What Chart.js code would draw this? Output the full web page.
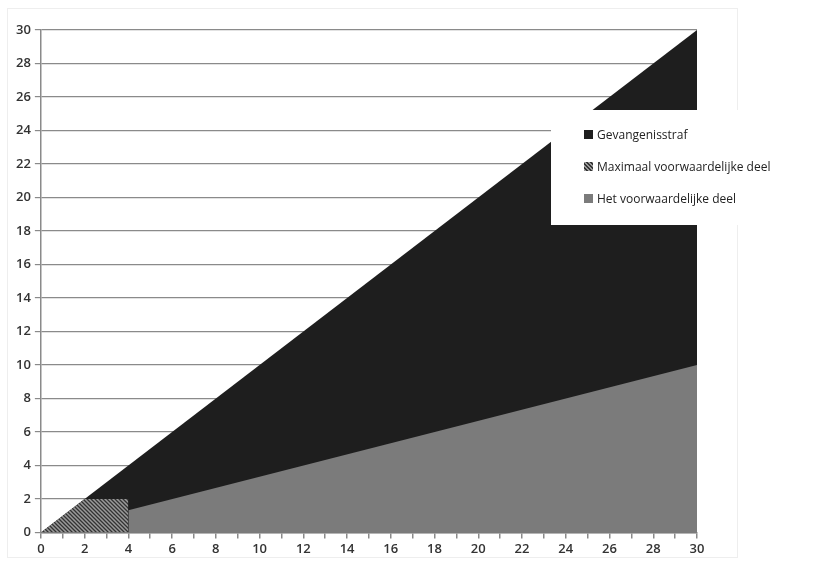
<!DOCTYPE html>
<html>
<head>
<meta charset="utf-8">
<script src="https://cdn.jsdelivr.net/npm/chart.js@4/dist/chart.umd.min.js"></script>
<style>
    body { margin: 0; background: #fff; }
    #wrap { position: relative; width: 836px; height: 563px; }
    #frame { position: absolute; left: 7px; top: 8px; width: 729px; height: 548px; border: 1px solid #eee; }
    #legend {
        position: absolute; left: 551px; top: 110px; width: 217px; height: 115px;
        background: #fff; font-family: "Open Sans", sans-serif; font-size: 12px; color: #222;
    }
    #legend div { position: absolute; left: 33px; white-space: nowrap; }
    #legend span { display: inline-block; width: 9px; height: 9px; margin-right: 4px; vertical-align: 0px; }
</style>
</head>
<body>
<div id="wrap">
    <div id="frame"></div>
    <canvas id="myChart" width="836" height="563"></canvas>
    <div id="legend"></div>
</div>
<script>
// waarden
const gevangenisX = [0, 30];
const gevangenisY = [0, 30];
const maximaalX = [0, 2, 4];
const maximaalY = [0, 2, 2];
const voorwaardelijkX = [4, 30];
const voorwaardelijkY = [1.33, 10];
const seriesLabels = ['Gevangenisstraf', 'Maximaal voorwaardelijke deel', 'Het voorwaardelijke deel'];

function toPoints(xs, ys) {
    return xs.map((x, i) => ({ x: x, y: ys[i] }));
}

function makeHatch() {
    const c = document.createElement('canvas');
    c.width = 4; c.height = 4;
    const g = c.getContext('2d');
    g.fillStyle = '#9a9a9a';
    g.fillRect(0, 0, 4, 4);
    g.strokeStyle = '#333';
    g.lineWidth = 1.3;
    g.beginPath();
    g.moveTo(-1, -1); g.lineTo(5, 5);
    g.moveTo(-1, 3); g.lineTo(1, 5);
    g.moveTo(3, -1); g.lineTo(5, 1);
    g.stroke();
    return g.createPattern(c, 'repeat');
}

const ctx = document.getElementById('myChart').getContext('2d');
const hatch = makeHatch();
const colors = ['#1e1e1e', hatch, '#7b7b7b'];
const tickFont = { family: 'Open Sans', size: 13, weight: '600' };

new Chart(ctx, {
    type: 'line',
    data: {
        datasets: [{
            label: seriesLabels[0],
            data: toPoints(gevangenisX, gevangenisY),
            backgroundColor: colors[0],
            borderWidth: 0,
            fill: 'origin',
            order: 3
        }, {
            label: seriesLabels[1],
            data: toPoints(maximaalX, maximaalY),
            backgroundColor: colors[1],
            borderWidth: 0,
            fill: 'origin',
            order: 1
        }, {
            label: seriesLabels[2],
            data: toPoints(voorwaardelijkX, voorwaardelijkY),
            backgroundColor: colors[2],
            borderWidth: 0,
            fill: 'origin',
            order: 2
        }]
    },
    options: {
        responsive: false,
        animation: false,
        elements: { point: { radius: 0 }, line: { tension: 0 } },
        layout: { padding: { left: 12, top: 30, right: 139, bottom: 3 } },
        plugins: { legend: { display: false }, tooltip: { enabled: false } },
        scales: {
            x: {
                type: 'linear', min: 0, max: 30,
                border: { color: '#8a8a8a', width: 1.5 },
                grid: { drawOnChartArea: false, color: '#8a8a8a', tickLength: 6, lineWidth: 1.5 },
                ticks: {
                    stepSize: 1, autoSkip: false, maxRotation: 0, color: '#333',
                    font: tickFont,
                    callback: (v) => (v % 2 === 0 ? v : '')
                }
            },
            y: {
                min: 0, max: 30,
                border: { color: '#8a8a8a', width: 1.5 },
                grid: { color: '#8a8a8a', tickLength: 6, lineWidth: 1.2 },
                ticks: {
                    stepSize: 2, color: '#333', padding: 4,
                    font: tickFont
                }
            }
        }
    }
});

// legenda als html-tekst
const legendDiv = document.getElementById('legend');
const legendColors = ['#1e1e1e', 'repeating-linear-gradient(45deg,#9a9a9a 0 1.5px,#333 1.5px 3px)', '#7b7b7b'];
const legendTops = [16, 48, 80];
seriesLabels.forEach((lbl, i) => {
    legendDiv.innerHTML += `<div style="top:${legendTops[i]}px"><span style="background:${legendColors[i]}"></span>${lbl}</div>`;
});
</script>
</body>
</html>
